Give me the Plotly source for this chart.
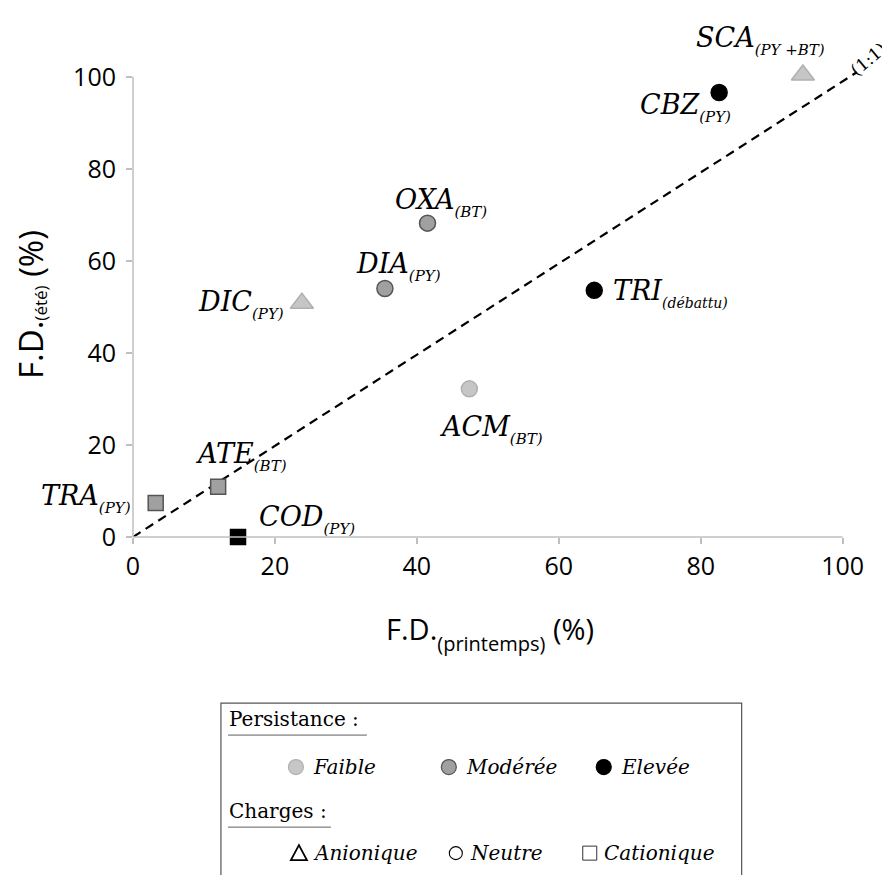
import plotly.graph_objects as go

# ---------------- data ----------------
compounds = ["SCA", "CBZ", "OXA", "DIA", "DIC", "TRI", "ACM", "ATE", "TRA", "COD"]
sub_labels = ["(PY +BT)", "(PY)", "(BT)", "(PY)", "(PY)", "(débattu)", "(BT)", "(BT)", "(PY)", "(PY)"]
fd_printemps = [94.4, 82.6, 41.5, 35.5, 23.8, 65.0, 47.4, 12.0, 3.2, 14.8]
fd_ete = [100.4, 96.6, 68.2, 54.0, 50.8, 53.6, 32.2, 10.9, 7.4, 0.0]
persistance = ["Faible", "Elevée", "Modérée", "Modérée", "Faible", "Elevée", "Faible", "Modérée", "Modérée", "Elevée"]
charges = ["Anionique", "Neutre", "Neutre", "Neutre", "Anionique", "Neutre", "Neutre", "Cationique", "Cationique", "Cationique"]

axis_ticks = [0, 20, 40, 60, 80, 100]
line_1to1_x = [0, 102]
line_1to1_y = [0, 101]

legend_persistance = ["Faible", "Modérée", "Elevée"]
legend_charges = ["Anionique", "Neutre", "Cationique"]

# ---------------- styles ----------------
FILL = {"Faible": "#c6c6c6", "Modérée": "#a0a0a0", "Elevée": "#000000"}
EDGE = {"Faible": "#b0b0b0", "Modérée": "#555555", "Elevée": "#000000"}
SYMBOL = {"Anionique": "triangle-up", "Neutre": "circle", "Cationique": "square"}
SIZE = {"Anionique": 20, "Neutre": 16, "Cationique": 15}

# label placement: (xanchor, xshift px, yshift px)
LABEL_POS = {
    "SCA": ("center", -42, 34),
    "CBZ": ("center", -34, -15),
    "OXA": ("center", 14, 21),
    "DIA": ("center", 14, 22),
    "DIC": ("right", -16, -1),
    "TRI": ("left", 17, -3),
    "ACM": ("center", 22, -41),
    "ATE": ("center", 23, 30),
    "TRA": ("right", -23, 4),
    "COD": ("left", 19, 18),
}
SUB_SIZE = {"TRI": 14}

OFF = 8                      # page body margin
W, H = 890, 875
X0_PX, X100_PX = 133 - OFF, 843 - OFF     # where x=0 / x=100 land
Y0_PX, Y100_PX = 537 - OFF, 77 - OFF      # where y=0 / y=100 land
XMAX, YMAX = 104.0, 108.0                 # extended ranges (room for SCA and the 1:1 line)
SX = (X100_PX - X0_PX) / 100.0
SY = (Y0_PX - Y100_PX) / 100.0
L = X0_PX
PW = SX * XMAX
R = W - L - PW
PH = SY * YMAX
T = Y0_PX - PH
B = H - Y0_PX

SERIF = "DejaVu Serif"
SANS = "Open Sans"
AXIS_GREY = "#bfbfbf"


def px(xp):
    """reference pixel x -> paper x"""
    return (xp - OFF - L) / PW


def py(yp):
    """reference pixel y -> paper y"""
    return (Y0_PX - (yp - OFF)) / PH


def with_sub(main, sub, main_px, sub_px, tail="", tail_px=None):
    """text with a subscript; the subscript drop is set by the annotation's base font size"""
    s = f"<span style='font-size:{main_px}px'>{main}</span>"
    s += f"<sub><span style='font-size:{sub_px}px'>{sub}</span></sub>"
    if tail:
        s += f"<span style='font-size:{tail_px or main_px}px'>{tail}</span>"
    return s


fig = go.Figure()

# 1:1 line
fig.add_trace(go.Scatter(
    x=line_1to1_x, y=line_1to1_y, mode="lines",
    line=dict(color="black", width=2.2, dash="9px,6px"),
    hoverinfo="skip", showlegend=False,
))

# points
fig.add_trace(go.Scatter(
    x=fd_printemps, y=fd_ete, mode="markers", showlegend=False,
    marker=dict(
        symbol=[SYMBOL[c] for c in charges],
        size=[SIZE[c] for c in charges],
        color=[FILL[p] for p in persistance],
        opacity=1,
        line=dict(color=[EDGE[p] for p in persistance], width=1.5),
    ),
    text=compounds, cliponaxis=False,
))

annotations = []
for name, sub, xv, yv in zip(compounds, sub_labels, fd_printemps, fd_ete):
    anchor, xs, ys = LABEL_POS[name]
    annotations.append(dict(
        x=xv, y=yv, xref="x", yref="y", showarrow=False,
        text="<i>" + with_sub(name, sub, 27, SUB_SIZE.get(name, 15)) + "</i>",
        xanchor=anchor, yanchor="middle", xshift=xs, yshift=ys,
        font=dict(family=SERIF, size=37, color="black"),
    ))

# (1:1) label
annotations.append(dict(
    x=px(869), y=py(59), xref="paper", yref="paper", showarrow=False,
    text="(1:1)", textangle=-40, xanchor="center", yanchor="middle",
    font=dict(family=SERIF, size=17, color="black"),
))

# axis titles
annotations.append(dict(
    x=px(490), y=py(633), xref="paper", yref="paper", showarrow=False,
    text=with_sub("F.D.", "(printemps)", 29, 20, " (%)"), xanchor="center", yanchor="middle",
    font=dict(family=SANS, size=54, color="black"),
))
annotations.append(dict(
    x=px(31), y=py(305), xref="paper", yref="paper", showarrow=False,
    text=with_sub("F.D.", "(été)", 33, 17, " (%)"), textangle=-90,
    xanchor="center", yanchor="middle",
    font=dict(family=SANS, size=20, color="black"),
))

shapes = []
# axis lines (only from 0 to 100, as in the original)
shapes.append(dict(type="line", xref="paper", yref="paper",
                   x0=0, x1=100 / XMAX, y0=0, y1=0,
                   line=dict(color=AXIS_GREY, width=1.5)))
shapes.append(dict(type="line", xref="paper", yref="paper",
                   x0=0, x1=0, y0=0, y1=100 / YMAX,
                   line=dict(color=AXIS_GREY, width=1.5)))

# legend box
shapes.append(dict(type="rect", xref="paper", yref="paper",
                   x0=px(221), x1=px(742), y0=py(703), y1=py(900),
                   line=dict(color="#555555", width=1.2), fillcolor="rgba(0,0,0,0)"))

# legend headings
for txt, ycen, ulen in [("Persistance :", 719, 139), ("Charges :", 811, 103)]:
    annotations.append(dict(
        x=px(227), y=py(ycen), xref="paper", yref="paper", showarrow=False,
        text=txt, xanchor="left", yanchor="middle",
        font=dict(family=SERIF, size=20, color="black"),
    ))
    shapes.append(dict(type="line", xref="paper", yref="paper",
                       x0=px(228), x1=px(228 + ulen), y0=py(ycen + 16), y1=py(ycen + 16),
                       line=dict(color="#606060", width=1)))

# persistance row
P_X = {"Faible": 296, "Modérée": 449, "Elevée": 604}
ROW1 = 767
for p in legend_persistance:
    cx = P_X[p]
    shapes.append(dict(type="circle", xref="paper", yref="paper",
                       xsizemode="pixel", ysizemode="pixel",
                       xanchor=px(cx), yanchor=py(ROW1),
                       x0=-7.5, x1=7.5, y0=-7.5, y1=7.5,
                       fillcolor=FILL[p], line=dict(color=EDGE[p], width=1.2)))
    annotations.append(dict(
        x=px(cx + 15), y=py(ROW1), xref="paper", yref="paper", showarrow=False,
        text=f"<i>{p}</i>", xanchor="left", yanchor="middle",
        font=dict(family=SERIF, size=20, color="black"),
    ))

# charges row
C_X = {"Anionique": 299, "Neutre": 456, "Cationique": 590}
ROW2 = 853
for c in legend_charges:
    cx = C_X[c]
    if c == "Anionique":
        shapes.append(dict(type="path", xref="paper", yref="paper",
                           xsizemode="pixel", ysizemode="pixel",
                           xanchor=px(cx), yanchor=py(ROW2),
                           path="M -8,-7 L 8,-7 L 0,8 Z",
                           fillcolor="rgba(0,0,0,0)", line=dict(color="black", width=1.8)))
    elif c == "Neutre":
        shapes.append(dict(type="circle", xref="paper", yref="paper",
                           xsizemode="pixel", ysizemode="pixel",
                           xanchor=px(cx), yanchor=py(ROW2),
                           x0=-6.5, x1=6.5, y0=-6.5, y1=6.5,
                           fillcolor="rgba(0,0,0,0)", line=dict(color="black", width=1.1)))
    else:
        shapes.append(dict(type="rect", xref="paper", yref="paper",
                           xsizemode="pixel", ysizemode="pixel",
                           xanchor=px(cx), yanchor=py(ROW2),
                           x0=-7, x1=7, y0=-7, y1=7,
                           fillcolor="rgba(0,0,0,0)", line=dict(color="#333333", width=1)))
    annotations.append(dict(
        x=px(cx + 12), y=py(ROW2), xref="paper", yref="paper", showarrow=False,
        text=f"<i>{c}</i>", xanchor="left", yanchor="middle",
        font=dict(family=SERIF, size=20, color="black"),
    ))

axis_common = dict(
    tickvals=axis_ticks, ticktext=[str(v) for v in axis_ticks],
    showline=False,
    ticks="outside", ticklen=6, tickwidth=1.5, tickcolor=AXIS_GREY,
    showgrid=False, zeroline=False,
    tickfont=dict(family=SANS, size=25, color="black"),
    fixedrange=True,
)

fig.update_layout(
    width=W, height=H,
    margin=dict(l=L, r=R, t=T, b=B, pad=0),
    paper_bgcolor="white", plot_bgcolor="white",
    xaxis=dict(**axis_common, range=[0, XMAX], ticklabelstandoff=1),
    yaxis=dict(**axis_common, range=[0, YMAX], ticklabelstandoff=5),
    annotations=annotations,
    shapes=shapes,
    showlegend=False,
)

fig.write_html("out.html")
